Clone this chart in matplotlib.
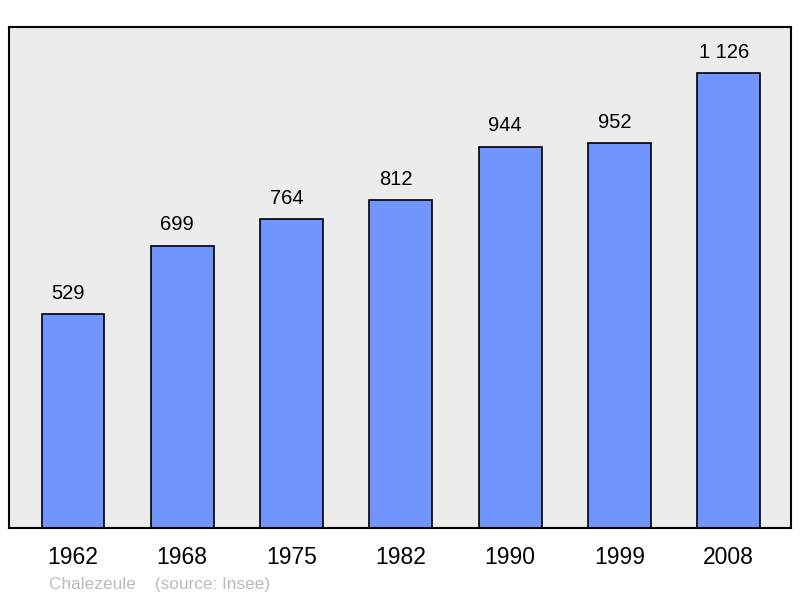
import matplotlib.pyplot as plt

plt.rcParams['font.family'] = ['Liberation Sans', 'DejaVu Sans']

years = ['1962', '1968', '1975', '1982', '1990', '1999', '2008']
population = [529, 699, 764, 812, 944, 952, 1126]
value_labels = ['529', '699', '764', '812', '944', '952', '1 126']

fig = plt.figure(figsize=(8, 5.98), dpi=100)
ax = fig.add_axes([9 / 800, 1 - 528 / 598, 782 / 800, 501 / 598])
ax.set_facecolor('#ececec')

x = list(range(len(years)))
ax.bar(x, population, width=0.575, color='#7095ff', edgecolor='black', linewidth=1.2, zorder=2)

# les etiquettes sont un peu decalees a gauche dans l'original
for xi, v, lab in zip(x, population, value_labels):
    ax.annotate(lab, (xi, v), xytext=(-3.5, 8), textcoords='offset points',
                ha='center', va='bottom', fontsize=14.5)

ax.set_xlim(-0.585, 6.57)
ax.set_ylim(0, 1240)
ax.set_xticks(x)
ax.set_xticklabels(years, fontsize=16.5)
ax.tick_params(axis='x', length=0, pad=13)
ax.set_yticks([])
for s in ax.spines.values():
    s.set_linewidth(1.5)
    s.set_color('black')

fig.text(49 / 800, 1 - 584 / 598, 'Chalezeule    (source: Insee)', fontsize=12.4,
         color='#bbbbbb', ha='left', va='center')

fig.savefig('out.png', dpi=100)
